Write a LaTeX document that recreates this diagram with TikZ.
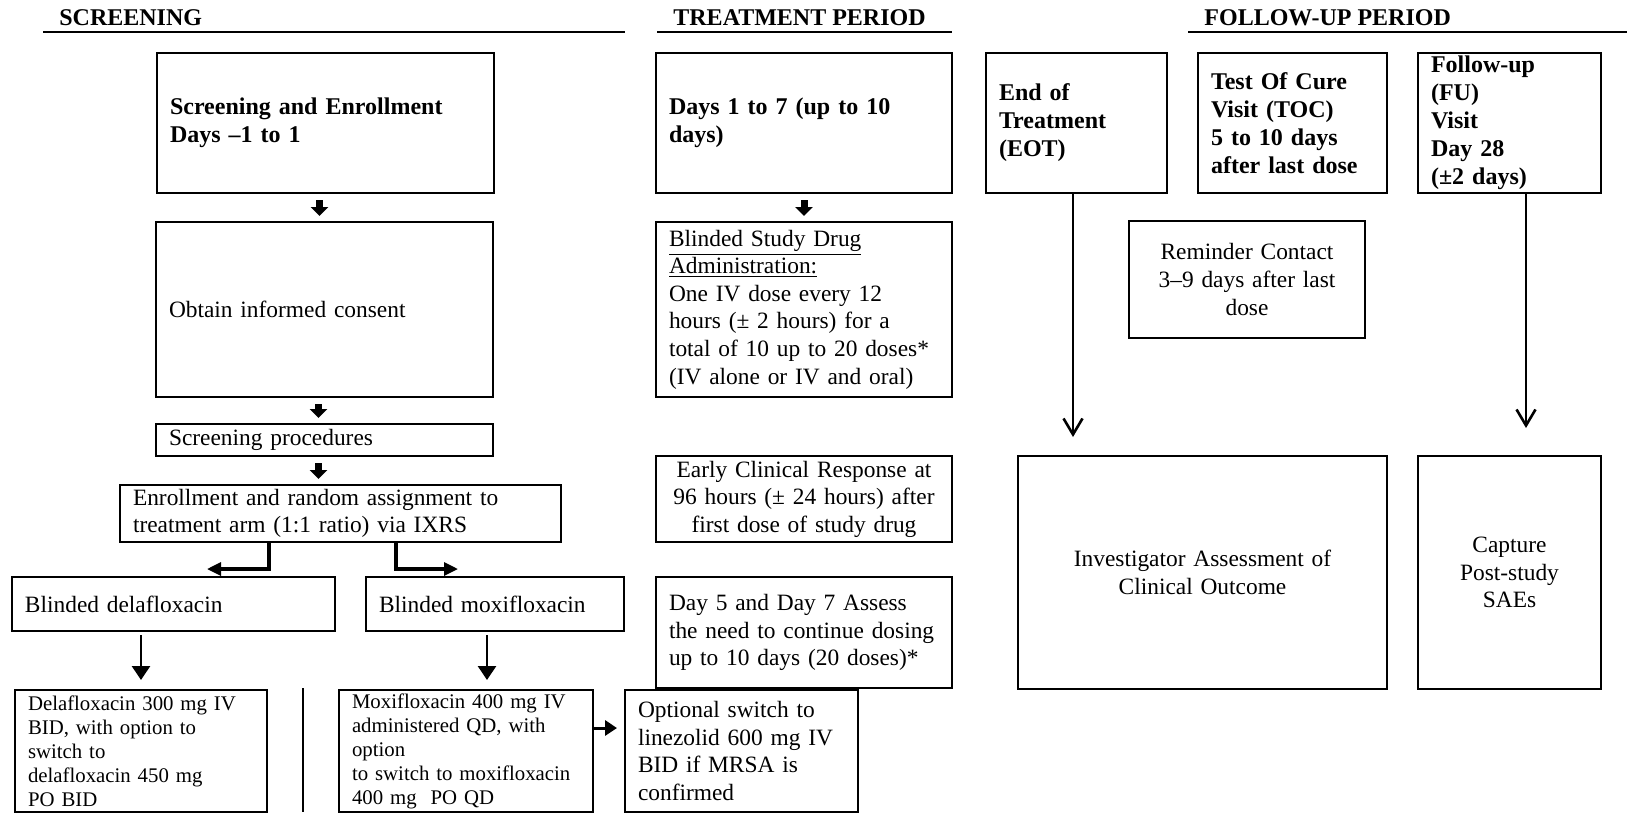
\documentclass[tikz,border=0pt]{standalone}
\usepackage{fontspec}
\setmainfont{Liberation Serif}
\usetikzlibrary{arrows.meta}

\begin{document}
\begin{tikzpicture}[x=0.5pt, y=-0.5pt,
        box/.style = {draw, line width=1pt, inner xsep=6.5pt, inner ysep=0pt, align=left, font=\fontsize{11.7}{13.8}\selectfont},
        bbox/.style = {box, font=\fontsize{12}{14}\selectfont\bfseries},
        cbox/.style = {box, align=center},
        sbox/.style = {box, font=\fontsize{10.4}{12}\selectfont},
        head/.style = {anchor=base west, inner sep=0pt, font=\fontsize{12}{14}\selectfont\bfseries},
        rule/.style = {line width=1pt},
        blockarrow/.style = {line width=3.5pt, -{Triangle[width=8.5pt,length=4.5pt]}, shorten <=3pt, shorten >=2.5pt},
        droparrow/.style = {line width=1.3pt, -{Triangle[width=9pt,length=7pt]}, shorten <=1.5pt, shorten >=4.5pt},
        brancharrow/.style = {line width=1.6pt, -{Triangle[width=6.5pt,length=7pt]}},
        sidearrow/.style = {line width=1.5pt, -{Triangle[width=7.5pt,length=6pt]}, shorten >=3.5pt},
        openarrow/.style = {line width=1.3pt, -{Straight Barb[width=9.5pt,length=8pt]}}]
    \useasboundingbox (0,0) rectangle (1627,814);

    % period headings
    \node[head] (hscr) at (59,25) {SCREENING};
    \node[head] (htrt) at (673,25) {TREATMENT PERIOD};
    \node[head] (hfu) at (1204,25) {FOLLOW-UP PERIOD};
    \draw[rule] (43,32) -- (625,32);
    \draw[rule] (657,32) -- (952,32);
    \draw[rule] (1188,32) -- (1627,32);

    % screening
    \node[bbox, text width=155.5pt, minimum height=70pt] (scr) at (325.5,123)
        {Screening and Enrollment\\Days --1 to 1};
    \node[box, text width=155.5pt, minimum height=87.5pt] (cons) at (324.5,309.5)
        {Obtain informed consent};
    \node[box, text width=155.5pt, minimum height=16pt] (proc) at (324.5,440)
        {Screening procedures};
    \node[box, text width=207.5pt, minimum height=28.5pt] (enr) at (340.5,513.5)
        {Enrollment and random assignment to\\treatment arm (1:1 ratio) via IXRS};
    \node[box, text width=148.5pt, minimum height=27pt] (bdela) at (173.5,604)
        {Blinded delafloxacin};
    \node[box, text width=116pt, minimum height=27pt] (bmoxi) at (495,604)
        {Blinded moxifloxacin};
    \node[sbox, text width=113pt, minimum height=61pt] (dela) at (141,751)
        {Delafloxacin 300 mg IV\\BID, with option to\\switch to\\delafloxacin 450 mg\\PO BID};
    \node[sbox, text width=114pt, minimum height=61pt] (moxi) at (466,751)
        {Moxifloxacin 400 mg IV\\administered QD, with\\option\\to switch to moxifloxacin\\400 mg~ PO QD};
    \node[box, text width=103.5pt, minimum height=61pt] (opt) at (741.5,751)
        {Optional switch to\\linezolid 600 mg IV\\BID if MRSA is\\confirmed};
    \draw[rule] (303,688) -- (303,812);

    % treatment
    \node[bbox, text width=135pt, minimum height=70pt] (days) at (804,123)
        {Days 1 to 7 (up to 10\\days)};
    \node[box, text width=135pt, minimum height=87.5pt] (drug) at (804,309.5)
        {\underline{Blinded Study Drug}\\\underline{Administration:}\\One IV dose every 12\\hours (± 2 hours) for a\\total of 10 up to 20 doses*\\(IV alone or IV and oral)};
    \node[cbox, text width=135pt, minimum height=43pt] (ecr) at (804,499)
        {Early Clinical Response at\\96 hours (± 24 hours) after\\first dose of study drug};
    \node[box, text width=135pt, minimum height=55.5pt] (assess) at (804,632.5)
        {Day 5 and Day 7 Assess\\the need to continue dosing\\up to 10 days (20 doses)*};

    % follow-up
    \node[bbox, text width=77.5pt, minimum height=70pt] (eot) at (1076.5,123)
        {End of\\Treatment\\(EOT)};
    \node[bbox, text width=81.5pt, minimum height=70pt] (toc) at (1292.5,123)
        {Test Of Cure\\Visit (TOC)\\5 to 10 days\\after last dose};
    \node[bbox, text width=78.5pt, minimum height=70pt] (fu) at (1509.5,123)
        {Follow-up\\(FU)\\Visit\\Day 28\\(±2 days)};
    \node[cbox, text width=105pt, minimum height=58.5pt] (remind) at (1247,279.5)
        {Reminder Contact\\3--9 days after last\\dose};
    \node[cbox, text width=171.5pt, minimum height=116.5pt] (inv) at (1202.5,572.5)
        {Investigator Assessment of\\Clinical Outcome};
    \node[cbox, text width=78.5pt, minimum height=116.5pt] (sae) at (1509.5,572.5)
        {Capture\\Post-study\\SAEs};

    \coordinate (ltip) at (207,569);
    \coordinate (rtip) at (458,569);

    \draw[blockarrow] ([xshift=-3pt]scr.south) -- ([xshift=-3pt]scr.south |- cons.north);
    \draw[blockarrow] ([xshift=-3pt]cons.south) -- ([xshift=-3pt]cons.south |- proc.north);
    \draw[blockarrow] ([xshift=-3pt]proc.south) -- ([xshift=-3pt]proc.south |- enr.north);
    \draw[blockarrow] (days) -- (drug);
    \draw[brancharrow] ([xshift=-35.75pt]enr.south) |- (ltip);
    \draw[brancharrow] ([xshift=27.75pt]enr.south) |- (rtip);
    \draw[droparrow] (dela.north |- bdela.south) -- (dela.north);
    \draw[droparrow] ([xshift=-4pt]bmoxi.south) -- ([xshift=-4pt]bmoxi.south |- moxi.north);
    \draw[sidearrow] ([yshift=11.5pt]moxi.east) -- ([yshift=11.5pt]opt.west);
    \draw[openarrow, shorten >=9pt] ([xshift=-1.75pt]eot.south) -- ([xshift=-1.75pt]eot.south |- inv.north);
    \draw[openarrow, shorten >=13.5pt] ([xshift=8.25pt]fu.south) -- ([xshift=8.25pt]fu.south |- sae.north);
\end{tikzpicture}
\end{document}
